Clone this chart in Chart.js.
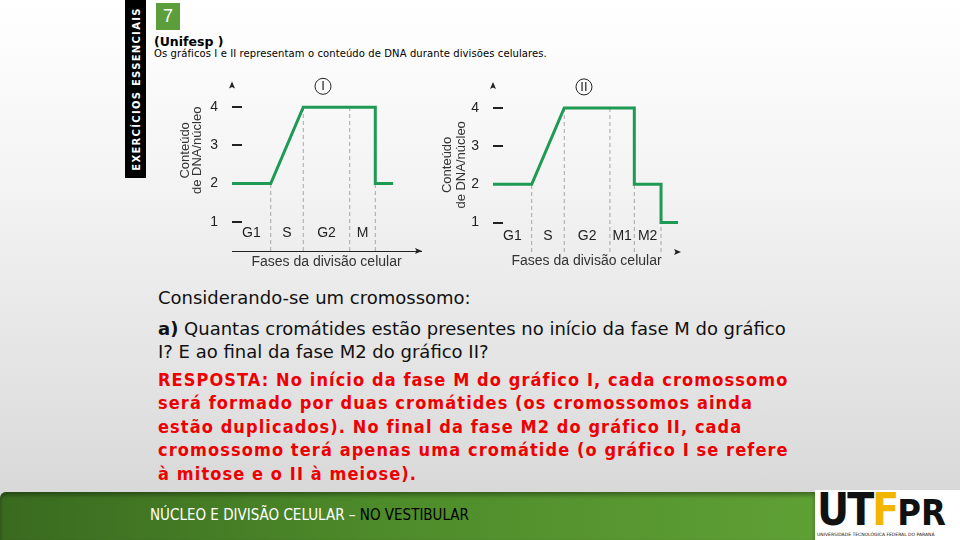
<!DOCTYPE html>
<html lang="pt">
<head>
<meta charset="UTF-8">
<title>Núcleo e divisão celular - exercício 7</title>
<script src="https://cdn.jsdelivr.net/npm/chart.js@4.4.0/dist/chart.umd.min.js"></script>
<style>
    body {
        margin: 0;
        width: 960px;
        height: 540px;
        overflow: hidden;
        position: relative;
        background: linear-gradient(to bottom, #ffffff 0%, #f3f3f3 35%, #e3e3e3 70%, #d4d4d4 100%);
        font-family: 'DejaVu Sans', Verdana, sans-serif;
    }
    .tab {
        position: absolute; left: 125px; top: 0; width: 21px; height: 178px;
        background: #000;
    }
    .tab span {
        position: absolute; left: 50%; top: 50%;
        transform: translate(-50%, -50%) rotate(-90deg);
        color: #fff; font-weight: bold; font-size: 10px; letter-spacing: 1.3px;
        white-space: nowrap;
    }
    .num {
        position: absolute; left: 156px; top: 3px; width: 24px; height: 27px;
        background: #5c9e3c; color: #fff; text-align: center;
        font: 18px 'Liberation Sans', Arial, sans-serif; line-height: 27px;
    }
    .src { position: absolute; left: 154px; top: 34px; font-weight: bold; font-size: 12.5px; }
    .sub { position: absolute; left: 154px; top: 48px; font-size: 10px; letter-spacing: 0.1px; white-space: nowrap; }
    .txt { position: absolute; left: 158px; font-size: 18px; white-space: nowrap; color: #111; line-height: 20px; }
    .red { color: #ee0000; font-weight: bold; font-family: 'DejaVu Sans Condensed', 'DejaVu Sans', sans-serif; font-stretch: condensed; font-size: 18px; letter-spacing: 1.1px; }
    canvas { position: absolute; }
    #c1 { left: 165px; top: 70px; }
    #c2 { left: 430px; top: 70px; }
    .foot {
        position: absolute; left: 0; top: 492px; width: 815px; height: 48px;
        background: linear-gradient(to right, #3a6a1f 0%, #4d8a2a 45%, #5fa035 100%);
        border-top-left-radius: 6px;
        box-shadow: inset 0 3px 4px rgba(0,0,0,0.35);
    }
    .foot span {
        position: absolute; left: 150px; top: 14px;
        font-family: 'DejaVu Sans Condensed', 'DejaVu Sans', sans-serif; font-stretch: condensed;
        font-size: 15px; color: #fff; white-space: nowrap;
    }
    .foot b { color: #000; font-weight: normal; }
    .logo { position: absolute; left: 815px; top: 490px; width: 145px; height: 50px; background: #fff; overflow: hidden; }
    .logo .big { position: absolute; left: 2px; top: -6px; font: bold 44px 'DejaVu Sans Condensed', sans-serif; letter-spacing: -2px; color: #111; }
    .logo .big i { font-style: normal; color: #f2b600; }
    .logo .big small { font-size: 36px; letter-spacing: 0; }
    .logo .tiny { position: absolute; left: 2px; top: 42px; font: 4.5px 'DejaVu Sans', sans-serif; color: #111; white-space: nowrap; }
</style>
</head>
<body>

<div class="tab"><span>EXERCÍCIOS ESSENCIAIS</span></div>
<div class="num">7</div>
<div class="src">(Unifesp )</div>
<div class="sub">Os gráficos I e II representam o conteúdo de DNA durante divisões celulares.</div>

<canvas id="c1" width="265" height="205"></canvas>
<canvas id="c2" width="265" height="205"></canvas>

<div class="txt" style="top:288px">Considerando-se um cromossomo:</div>
<div class="txt" style="top:319px"><b>a)</b> Quantas cromátides estão presentes no início da fase M do gráfico</div>
<div class="txt" style="top:342px">I? E ao final da fase M2 do gráfico II?</div>
<div class="txt red" style="top:370px">RESPOSTA: No início da fase M do gráfico I, cada cromossomo</div>
<div class="txt red" style="top:393px">será formado por duas cromátides (os cromossomos ainda</div>
<div class="txt red" style="top:417px">estão duplicados). No final da fase M2 do gráfico II, cada</div>
<div class="txt red" style="top:440px">cromossomo terá apenas uma cromátide (o gráfico I se refere</div>
<div class="txt red" style="top:464px">à mitose e o II à meiose).</div>

<div class="foot"><span>NÚCLEO E DIVISÃO CELULAR – <b>NO VESTIBULAR</b></span></div>
<div class="logo"><div class="big">UT<i>F</i><small>PR</small></div><div class="tiny">UNIVERSIDADE TECNOLÓGICA FEDERAL DO PARANÁ</div></div>

<script>
    // y axis ticks (DNA per nucleus)
    const yTicks = [1, 2, 3, 4];

    // graph I (mitosis)
    const phasesI = ['G1', 'S', 'G2', 'M'];
    const boundsI = [0, 1.0, 1.84, 3.04, 3.7];
    const dashTopI = [2, 4, 4, 2];
    const dnaXI = [0, 1.0, 1.84, 3.7, 3.7, 4.16];
    const dnaYI = [2, 2, 4, 4, 2, 2];

    // graph II (meiosis)
    const phasesII = ['G1', 'S', 'G2', 'M1', 'M2'];
    const boundsII = [0, 1.0, 1.84, 3.02, 3.65, 4.34];
    const dashTopII = [2, 4, 4, 2, 1];
    const dnaXII = [0, 1.0, 1.84, 3.65, 3.65, 4.34, 4.34, 4.78];
    const dnaYII = [2, 2, 4, 4, 2, 2, 1, 1];

    const green = '#1f9a55';
    const ink = '#222';
    const labelFont = '14px "Liberation Sans", Arial, sans-serif';

    function triangle(ctx, x, y, dir) {
        ctx.beginPath();
        if (dir === 'up') {
            ctx.moveTo(x, y - 4); ctx.lineTo(x + 3, y + 3); ctx.lineTo(x, y + 1.5); ctx.lineTo(x - 3, y + 3);
        } else {
            ctx.moveTo(x + 4, y); ctx.lineTo(x - 3, y + 3); ctx.lineTo(x - 1.5, y); ctx.lineTo(x - 3, y - 3);
        }
        ctx.closePath();
        ctx.fill();
    }

    const decor = {
        id: 'decor',
        beforeDatasetsDraw(chart, args, o) {
            const {ctx, chartArea: a, scales: {y}} = chart;
            ctx.save();
            ctx.strokeStyle = ink;
            ctx.lineWidth = 2;
            yTicks.forEach(v => {
                const py = Math.round(y.getPixelForValue(v));
                ctx.beginPath();
                ctx.moveTo(a.left, py);
                ctx.lineTo(a.left + 10, py);
                ctx.stroke();
            });
            ctx.restore();
        },
        afterDatasetsDraw(chart, args, o) {
            const {ctx, chartArea: a, scales: {x, y}} = chart;
            ctx.save();
            ctx.fillStyle = ink;
            triangle(ctx, a.left, a.top + 1, 'up');
            triangle(ctx, a.right - 3, a.bottom, 'right');

            // phase names
            ctx.font = labelFont;
            ctx.textAlign = 'center';
            ctx.textBaseline = 'middle';
            o.phases.forEach((p, i) => {
                const mid = (o.bounds[i] + o.bounds[i + 1]) / 2;
                ctx.fillText(p, x.getPixelForValue(mid), y.getPixelForValue(o.labelY));
            });

            // circled numeral
            const cx = x.getPixelForValue(o.markX), cy = y.getPixelForValue(o.markY);
            ctx.strokeStyle = ink;
            ctx.lineWidth = 1;
            ctx.beginPath();
            ctx.arc(cx, cy, 8, 0, Math.PI * 2);
            ctx.stroke();
            ctx.font = '13px "Liberation Sans", Arial, sans-serif';
            ctx.fillText(o.mark, cx, cy + 0.5);

            // y axis title, two lines
            ctx.fillStyle = '#333';
            ctx.font = '13px "Liberation Sans", Arial, sans-serif';
            o.titleLines.forEach((t, i) => {
                ctx.save();
                ctx.translate(a.left - o.titleDx[i], y.getPixelForValue(o.titleY));
                ctx.rotate(-Math.PI / 2);
                ctx.fillText(t, 0, 0);
                ctx.restore();
            });
            ctx.restore();
        }
    };

    function makeChart(id, xs, ys, bounds, dashTop, phases, opts) {
        const datasets = [{
            data: xs.map((v, i) => ({x: v, y: ys[i]})),
            borderColor: green,
            borderWidth: 3,
            borderJoinStyle: 'miter',
            pointRadius: 0,
            tension: 0,
            fill: false
        }];
        bounds.slice(1).forEach((b, i) => {
            datasets.push({
                data: [{x: b, y: 0.23}, {x: b, y: dashTop[i]}],
                borderColor: '#a6a6a6',
                borderWidth: 1,
                borderDash: [4, 3],
                pointRadius: 0,
                fill: false
            });
        });

        new Chart(document.getElementById(id), {
            type: 'line',
            data: {datasets: datasets},
            plugins: [decor],
            options: {
                responsive: false,
                animation: false,
                devicePixelRatio: 1,
                layout: {padding: {top: opts.padTop, right: opts.padRight, left: 0, bottom: 0}},
                plugins: {
                    legend: {display: false},
                    tooltip: {enabled: false},
                    decor: {
                        phases: phases, bounds: bounds, labelY: opts.labelY,
                        mark: opts.mark, markX: 2.35, markY: 4.55,
                        titleLines: ['Conteúdo', 'de DNA/núcleo'],
                        titleDx: opts.titleDx, titleY: opts.titleY
                    }
                },
                scales: {
                    x: {
                        type: 'linear', min: 0, max: opts.xMax,
                        grid: {display: false},
                        border: {display: opts.xLine, color: ink, width: 1},
                        ticks: {display: false},
                        title: {
                            display: true, text: 'Fases da divisão celular', color: '#333',
                            font: {family: '"Liberation Sans", Arial, sans-serif', size: 14},
                            padding: {top: 0, bottom: opts.xTitlePad}
                        },
                        afterFit: s => { s.height = opts.xHeight; }
                    },
                    y: {
                        min: 0.23, max: 4.6,
                        grid: {display: false},
                        border: {display: false},
                        afterBuildTicks: s => { s.ticks = yTicks.map(v => ({value: v})); },
                        ticks: {
                            color: ink, padding: 6,
                            font: {family: '"Liberation Sans", Arial, sans-serif', size: 14}
                        },
                        afterFit: s => { s.width = opts.yWidth; }
                    }
                }
            }
        });
    }

    makeChart('c1', dnaXI, dnaYI, boundsI, dashTopI, phasesI, {
        padTop: 13, padRight: 9, xMax: 4.88, xLine: true, xHeight: 24, xTitlePad: 4,
        yWidth: 67, labelY: 0.71, mark: 'I', titleDx: [47, 35], titleY: 2.87
    });
    makeChart('c2', dnaXII, dnaYII, boundsII, dashTopII, phasesII, {
        padTop: 15, padRight: 15, xMax: 4.83, xLine: false, xHeight: 23, xTitlePad: 5,
        yWidth: 63, labelY: 0.64, mark: 'II', titleDx: [46, 32], titleY: 2.51
    });
</script>

</body>
</html>
